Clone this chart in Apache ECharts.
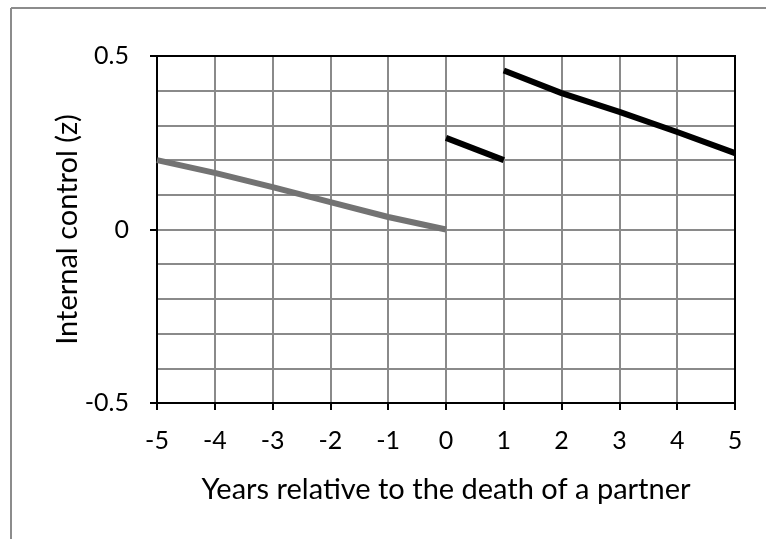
<!DOCTYPE html>
<html>
<head>
<meta charset="utf-8">
<script src="https://cdn.jsdelivr.net/npm/echarts@6/dist/echarts.min.js"></script>
<style>
  html, body { margin: 0; padding: 0; background: #fff; }
  #box { width: 766px; height: 539px; }
</style>
</head>
<body>
<div id="box"></div>
<script>
// years relative to the death of a partner
const yearsBefore = [-5, -4, -3, -2, -1, 0];
const valuesBefore = [0.200, 0.163, 0.122, 0.079, 0.036, 0.000];
const yearsFirst = [0, 1];
const valuesFirst = [0.264, 0.200];
const yearsAfter = [1, 2, 3, 4, 5];
const valuesAfter = [0.458, 0.393, 0.339, 0.281, 0.220];
const yTickLabels = [-0.5, 0, 0.5];

const pairs = (xs, ys) => xs.map((x, i) => [x, ys[i]]);

const myChart = echarts.init(document.getElementById('box'));
const font = 'Lato, sans-serif';

const option = {
  animation: false,
  backgroundColor: '#fff',
  grid: { left: 157, right: 31, top: 56, bottom: 136 },
  graphic: [
    // outer frame (only top and left visible)
    { type: 'line', shape: { x1: 11, y1: 8, x2: 766, y2: 8 }, style: { stroke: '#8c8c8c', lineWidth: 2 } },
    { type: 'line', shape: { x1: 11, y1: 8, x2: 11, y2: 539 }, style: { stroke: '#8c8c8c', lineWidth: 2 } },
    // plot box
    { type: 'rect', z: 1, shape: { x: 157, y: 56, width: 578, height: 347 }, style: { fill: null, stroke: '#000', lineWidth: 2 } }
  ],
  xAxis: {
    type: 'value',
    min: -5, max: 5, interval: 1,
    name: 'Years relative to the death of a partner',
    nameLocation: 'middle',
    nameGap: 72,
    nameMoveOverlap: false,
    nameTextStyle: { fontFamily: font, fontSize: 29, color: '#000' },
    axisLine: { onZero: false, lineStyle: { color: '#000', width: 2 } },
    axisTick: { show: true, length: 7, lineStyle: { color: '#000', width: 2 } },
    axisLabel: { fontFamily: font, fontSize: 25, color: '#000', margin: 25 },
    splitLine: { show: true, lineStyle: { color: '#8a8a8a', width: 2 } }
  },
  yAxis: {
    type: 'value',
    min: -0.5, max: 0.5, interval: 0.5,
    name: 'Internal control (z)',
    nameLocation: 'middle',
    nameGap: 75,
    nameMoveOverlap: false,
    nameTextStyle: { fontFamily: font, fontSize: 29, color: '#000' },
    axisLine: { show: true, onZero: false, lineStyle: { color: '#000', width: 2 } },
    axisTick: { show: true, length: 7, lineStyle: { color: '#000', width: 2 } },
    axisLabel: {
      fontFamily: font, fontSize: 25, color: '#000', margin: 28,
      formatter: v => (yTickLabels.some(t => Math.abs(t - v) < 1e-9) ? String(Math.round(v * 10) / 10) : '')
    },
    splitLine: { show: true, lineStyle: { color: '#8a8a8a', width: 2 } },
    minorTick: { show: false, splitNumber: 5 },
    minorSplitLine: { show: true, lineStyle: { color: '#8a8a8a', width: 2 } }
  },
  series: [
    {
      type: 'line', data: pairs(yearsBefore, valuesBefore),
      symbol: 'none', lineStyle: { color: '#737373', width: 6 }
    },
    {
      type: 'line', data: pairs(yearsFirst, valuesFirst),
      symbol: 'none', lineStyle: { color: '#000', width: 6 }
    },
    {
      type: 'line', data: pairs(yearsAfter, valuesAfter),
      symbol: 'none', lineStyle: { color: '#000', width: 6 }
    }
  ]
};
myChart.setOption(option);
</script>
</body>
</html>
